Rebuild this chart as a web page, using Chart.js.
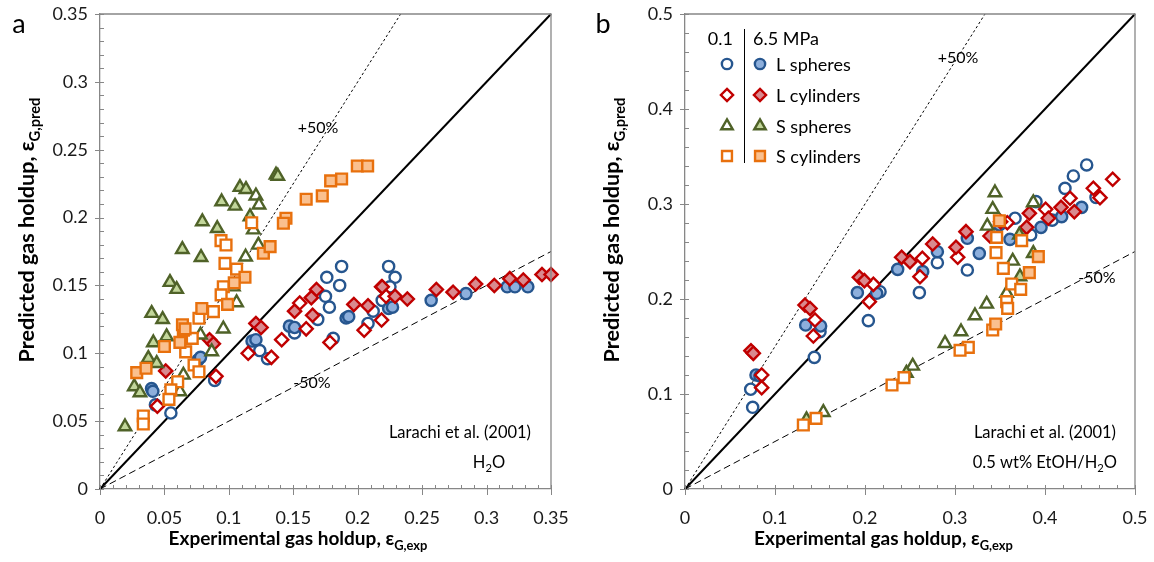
<!DOCTYPE html>
<html><head><meta charset="utf-8">
<script src="https://cdn.jsdelivr.net/npm/chart.js@4/dist/chart.umd.min.js"></script>
<style>
html,body{margin:0;padding:0;background:#fff;}
body{width:1154px;height:562px;position:relative;overflow:hidden;}
canvas{position:absolute;top:0;}
#ca{left:0;} #cb{left:577px;}
</style></head>
<body>
<canvas id="ca" width="577" height="562"></canvas>
<canvas id="cb" width="577" height="562"></canvas>
<script>
// ---------------- DATA (panel a: water) ----------------
const aTicks = [0, 0.05, 0.1, 0.15, 0.2, 0.25, 0.3, 0.35];
const aLSph01 = [[0.055,0.056],[0.043,0.062],[0.089,0.080],[0.124,0.102],[0.130,0.096],[0.176,0.156],[0.1875,0.164],[0.186,0.150],[0.175,0.142],[0.178,0.134],[0.169,0.125],[0.151,0.115],[0.181,0.111],[0.224,0.164],[0.229,0.156],[0.225,0.149],[0.219,0.139],[0.212,0.131],[0.208,0.122]];
const aLSph65 = [[0.040,0.074],[0.041,0.072],[0.076,0.095],[0.078,0.097],[0.118,0.109],[0.121,0.110],[0.147,0.120],[0.151,0.119],[0.191,0.126],[0.193,0.127],[0.224,0.133],[0.227,0.134],[0.257,0.139],[0.284,0.144],[0.316,0.149],[0.322,0.149],[0.332,0.149]];
const aLCyl01 = [[0.0445,0.061],[0.090,0.083],[0.115,0.100],[0.133,0.097],[0.141,0.110],[0.160,0.118],[0.155,0.137],[0.1785,0.108],[0.205,0.117],[0.2185,0.1245],[0.2185,0.149],[0.222,0.142]];
const aLCyl65 = [[0.051,0.087],[0.085,0.110],[0.088,0.107],[0.121,0.122],[0.125,0.119],[0.151,0.131],[0.165,0.128],[0.168,0.147],[0.164,0.141],[0.197,0.136],[0.208,0.135],[0.219,0.149],[0.229,0.142],[0.2385,0.140],[0.261,0.147],[0.274,0.145],[0.2915,0.151],[0.306,0.150],[0.318,0.155],[0.3285,0.154],[0.343,0.158],[0.350,0.158]];
const aSSph01 = [[0.121,0.216],[0.1234,0.2093],[0.119,0.191],[0.113,0.171],[0.1229,0.1798],[0.106,0.1373],[0.0957,0.118],[0.078,0.1135],[0.0867,0.1012],[0.0647,0.084],[0.062,0.0717],[0.1035,0.149]];
const aSSph65 = [[0.1366,0.2314],[0.138,0.2305],[0.1086,0.2223],[0.1133,0.2208],[0.0944,0.2117],[0.1048,0.2085],[0.1164,0.2007],[0.0794,0.197],[0.091,0.192],[0.0639,0.1766],[0.0784,0.1707],[0.0543,0.1523],[0.0595,0.1472],[0.0401,0.1295],[0.0486,0.125],[0.0517,0.1123],[0.0414,0.1078],[0.0375,0.0963],[0.044,0.0926],[0.0266,0.0754],[0.031,0.071],[0.0194,0.0459]];
const aSCyl01 = [[0.1177,0.1962],[0.0939,0.183],[0.0978,0.1798],[0.097,0.1663],[0.106,0.162],[0.0957,0.149],[0.094,0.143],[0.088,0.1307],[0.0768,0.1258],[0.0716,0.111],[0.0647,0.117],[0.0665,0.101],[0.073,0.0914],[0.0768,0.0864],[0.0603,0.079],[0.055,0.073],[0.0535,0.066],[0.0336,0.0538],[0.0336,0.0479]];
const aSCyl65 = [[0.1997,0.238],[0.2077,0.238],[0.179,0.227],[0.1875,0.2284],[0.160,0.2135],[0.1725,0.216],[0.1443,0.1995],[0.1423,0.1958],[0.1268,0.1737],[0.132,0.1786],[0.1125,0.156],[0.1042,0.152],[0.099,0.136],[0.079,0.133],[0.064,0.121],[0.066,0.118],[0.062,0.108],[0.050,0.105],[0.0285,0.0857],[0.0357,0.089]];

// ---------------- DATA (panel b: 0.5 wt% EtOH) ----------------
const bTicks = [0, 0.1, 0.2, 0.3, 0.4, 0.5];
const bLSph01 = [[0.073,0.105],[0.0752,0.086],[0.150,0.1656],[0.1437,0.1386],[0.2167,0.2077],[0.2037,0.1772],[0.2604,0.2067],[0.4463,0.3411],[0.4315,0.3295],[0.4222,0.3165],[0.4567,0.307],[0.390,0.3025],[0.3667,0.285],[0.3841,0.2674],[0.3137,0.2305],[0.2804,0.2382],[0.408,0.283]];
const bLSph65 = [[0.0789,0.120],[0.0833,0.119],[0.1341,0.1726],[0.1507,0.1716],[0.1915,0.2067],[0.213,0.206],[0.2363,0.2312],[0.2641,0.2288],[0.4407,0.2965],[0.4185,0.2867],[0.3956,0.2754],[0.3611,0.2628],[0.327,0.248],[0.3137,0.2639],[0.2804,0.2498],[0.3493,0.2779]];
const bLCyl01 = [[0.0852,0.120],[0.0852,0.1067],[0.1444,0.1779],[0.1426,0.161],[0.2093,0.2154],[0.2048,0.1972],[0.2637,0.2428],[0.2611,0.2235],[0.4752,0.326],[0.4537,0.3165],[0.4611,0.3067],[0.4278,0.306],[0.4007,0.2944],[0.3581,0.2803],[0.303,0.2439]];
const bLCyl65 = [[0.0733,0.1456],[0.0759,0.1428],[0.1333,0.1937],[0.1389,0.190],[0.1937,0.2228],[0.1993,0.2193],[0.2407,0.2439],[0.250,0.2393],[0.4326,0.2919],[0.4178,0.2965],[0.4037,0.285],[0.3826,0.2902],[0.3796,0.2754],[0.3507,0.2814],[0.3389,0.2663],[0.3122,0.2709],[0.3011,0.2544],[0.2752,0.2579]];
const bSSph01 = [[0.1537,0.0807],[0.253,0.1295],[0.3444,0.3119],[0.3419,0.2944],[0.3359,0.2768],[0.387,0.3014],[0.3641,0.240],[0.3574,0.206],[0.3352,0.1947],[0.3222,0.1824],[0.3067,0.1656],[0.2889,0.1533]];
const bSSph65 = [[0.135,0.073],[0.246,0.122],[0.3715,0.2674],[0.3722,0.2235],[0.387,0.248]];
const bSCyl01 = [[0.1315,0.0674],[0.1456,0.0744],[0.230,0.1095],[0.2433,0.1172],[0.3463,0.2649],[0.3456,0.2488],[0.3741,0.2614],[0.3537,0.2323],[0.363,0.2158],[0.373,0.2102],[0.3574,0.1972],[0.3585,0.1902],[0.3419,0.1674],[0.3148,0.1491],[0.3056,0.146]];
const bSCyl65 = [[0.3493,0.2824],[0.3926,0.2446],[0.3826,0.2277],[0.3452,0.1737]];

// reference lines (parity, +50 %, -50 %)
const aParity = [[0,0],[0.35,0.35]], aPlus50 = [[0,0],[0.35/1.5,0.35]], aMinus50 = [[0,0],[0.35,0.175]];
const bParity = [[0,0],[0.5,0.5]],   bPlus50 = [[0,0],[0.5/1.5,0.5]],   bMinus50 = [[0,0],[0.5,0.25]];

const legendLabels = ['L spheres', 'L cylinders', 'S spheres', 'S cylinders'];

// ---------------- STYLE ----------------
const FONT = 'Lato, "Liberation Sans", sans-serif';
const AXIS = '#878787';
const COL = {
  blue:   {stroke:'#26568F', fill:'#8DAFDC', style:'circle',   r:5.6},
  red:    {stroke:'#C00000', fill:'#D98A8F', style:'rectRot',  r:6.6},
  green:  {stroke:'#4F6228', fill:'#C2D69A', style:'triangle', r:7.2},
  orange: {stroke:'#E8700D', fill:'#FAC08F', style:'rect',     r:7.6}
};

function series(data, c, filled, order) {
  return {type:'scatter', data:data.map(p=>({x:p[0], y:p[1]})), pointStyle:c.style, pointRadius:c.r,
    pointBorderWidth:2.4, pointBorderColor:c.stroke, pointBackgroundColor: filled ? c.fill : '#ffffff',
    order:order, clip:false};
}
function line(data, w, dash, order) {
  return {type:'line', data:data.map(p=>({x:p[0], y:p[1]})), borderColor:'#000', borderWidth:w,
    borderDash:dash, pointRadius:0, fill:false, order:order, tension:0, clip:false};
}

function rich(ctx, parts, x, y, o) {
  const bold = o.bold ? 'bold ' : '';
  let main = o.size, sub = o.subSize || o.size * 0.68;
  const measure = () => { let w = 0; parts.forEach(p => { ctx.font = bold + (p[1] ? sub : main) + 'px ' + FONT; w += ctx.measureText(p[0]).width; }); return w; };
  let w = measure();
  if (o.width) { const k = o.width / w; main *= k; sub *= k; w = measure(); }
  let sx = o.align === 'center' ? x - w / 2 : o.align === 'right' ? x - w : x;
  ctx.textAlign = 'left'; ctx.textBaseline = 'alphabetic'; ctx.fillStyle = o.color || '#000';
  parts.forEach(p => {
    ctx.font = bold + (p[1] ? sub : main) + 'px ' + FONT;
    ctx.fillText(p[0], sx, y + (p[1] ? main * 0.27 : 0));
    sx += ctx.measureText(p[0]).width;
  });
}

function marker(ctx, style, x, y, r, stroke, fill) {
  ctx.save(); ctx.lineWidth = 2.4; ctx.strokeStyle = stroke; ctx.fillStyle = fill; ctx.beginPath();
  if (style === 'circle') ctx.arc(x, y, r, 0, Math.PI * 2);
  else if (style === 'rect') { const s = r * Math.SQRT1_2; ctx.rect(x - s, y - s, 2 * s, 2 * s); }
  else if (style === 'rectRot') { ctx.moveTo(x, y - r); ctx.lineTo(x + r, y); ctx.lineTo(x, y + r); ctx.lineTo(x - r, y); ctx.closePath(); }
  else if (style === 'triangle') { ctx.moveTo(x, y - r); ctx.lineTo(x + r * Math.cos(Math.PI / 6), y + r * 0.5); ctx.lineTo(x - r * Math.cos(Math.PI / 6), y + r * 0.5); ctx.closePath(); }
  ctx.fill(); ctx.stroke(); ctx.restore();
}

const frame = {
  id: 'frame',
  afterDraw(chart, args, o) {
    const ctx = chart.ctx, a = chart.chartArea, xs = chart.scales.x, ys = chart.scales.y;
    ctx.save();
    ctx.strokeStyle = AXIS; ctx.lineWidth = 1.3;
    ctx.beginPath(); ctx.moveTo(a.left, a.top); ctx.lineTo(a.right, a.top); ctx.lineTo(a.right, a.bottom); ctx.stroke();
    ctx.lineWidth = 1;
    const n = Math.round(o.max / o.minor);
    for (let i = 0; i <= n; i++) {
      const v = i * o.minor, major = (i % o.per) === 0;
      const px = Math.round(xs.getPixelForValue(v)) + 0.5, py = Math.round(ys.getPixelForValue(v)) + 0.5;
      ctx.beginPath();
      ctx.moveTo(px, a.bottom - 4); ctx.lineTo(px, a.bottom + (major ? 6 : 0));
      ctx.moveTo(a.left + 4, py); ctx.lineTo(a.left - (major ? 5 : 0), py);
      ctx.stroke();
    }
    ctx.restore();
    // texts
    o.texts.forEach(t => rich(ctx, t.parts, t.x, t.y, t));
    // axis titles
    rich(ctx, [['Experimental gas holdup, ε', 0], ['G,exp', 1]], o.xTitle[0], o.xTitle[1], {bold:true, size:19, align:'center', width:259});
    ctx.save(); ctx.translate(o.yTitle[0], o.yTitle[1]); ctx.rotate(-Math.PI / 2);
    rich(ctx, [['Predicted gas holdup, ε', 0], ['G,pred', 1]], 0, 7, {bold:true, size:19, align:'center', width:265});
    ctx.restore();
    if (o.legend) {
      const L = o.legend;
      ctx.save();
      rich(ctx, [['0.1', 0]], L.x0 + 6, L.hy, {size:18, align:'right'});
      rich(ctx, [['6.5 MPa', 0]], L.x1 - 7, L.hy, {size:18, align:'left'});
      ctx.strokeStyle = '#000'; ctx.lineWidth = 1;
      ctx.beginPath(); ctx.moveTo(L.line, L.top); ctx.lineTo(L.line, L.bottom); ctx.stroke();
      const cs = [COL.blue, COL.red, COL.green, COL.orange];
      legendLabels.forEach((lab, i) => {
        const y = L.rows[i], c = cs[i];
        const rr = c.r * 0.92;
        marker(ctx, c.style, L.x0, y, rr, c.stroke, '#fff');
        marker(ctx, c.style, L.x1, y, rr, c.stroke, c.fill);
        rich(ctx, [[lab, 0]], L.x1 + 16, y + 6.5, {size:18, align:'left'});
      });
      ctx.restore();
    }
  }
};

function noPad(s) { s.paddingTop = 0; s.paddingBottom = 0; s.paddingLeft = 0; s.paddingRight = 0; }

function makeChart(id, cfg) {
  const datasets = [
    series(cfg.SCyl65, COL.orange, true, 1), series(cfg.SCyl01, COL.orange, false, 2),
    series(cfg.SSph65, COL.green, true, 3),  series(cfg.SSph01, COL.green, false, 4),
    series(cfg.LCyl65, COL.red, true, 5),    series(cfg.LCyl01, COL.red, false, 6),
    series(cfg.LSph65, COL.blue, true, 7),   series(cfg.LSph01, COL.blue, false, 8),
    line(cfg.parity, 2, [], 9), line(cfg.plus, 1, [2.5, 2.5], 10), line(cfg.minus, 1, [7, 4], 11)
  ];
  const tickFont = {family: FONT, size: 18};
  const fmt = v => String(+(+v).toFixed(2));
  return new Chart(document.getElementById(id), {
    type: 'scatter',
    data: {datasets},
    options: {
      responsive: false, animation: false, events: [],
      layout: {autoPadding: false, padding: {left: 0, top: 14, right: 577 - cfg.right, bottom: 0}},
      plugins: {legend: {display: false}, tooltip: {enabled: false}, frame: cfg.frame},
      scales: {
        x: {type: 'linear', min: 0, max: cfg.max,
            afterBuildTicks: s => { s.ticks = cfg.ticks.map(v => ({value: v})); },
            afterFit: s => { s.height = 73; noPad(s); },
            ticks: {font: tickFont, color: '#1a1a1a', padding: 18, maxRotation: 0, autoSkip: false, callback: fmt},
            grid: {drawOnChartArea: false, drawTicks: false}, border: {color: AXIS, width: 1.3}},
        y: {type: 'linear', min: 0, max: cfg.max,
            afterBuildTicks: s => { s.ticks = cfg.ticks.map(v => ({value: v})); },
            afterFit: s => { s.width = cfg.left; noPad(s); },
            ticks: {font: tickFont, color: '#1a1a1a', padding: 12, autoSkip: false, callback: fmt},
            grid: {drawOnChartArea: false, drawTicks: false}, border: {color: AXIS, width: 1.3}}
      }
    },
    plugins: [frame]
  });
}

makeChart('ca', {
  max: 0.35, ticks: aTicks, left: 100, right: 551,
  LSph01: aLSph01, LSph65: aLSph65, LCyl01: aLCyl01, LCyl65: aLCyl65,
  SSph01: aSSph01, SSph65: aSSph65, SCyl01: aSCyl01, SCyl65: aSCyl65,
  parity: aParity, plus: aPlus50, minus: aMinus50,
  frame: {max: 0.35, minor: 0.01, per: 5, xTitle: [298, 545], yTitle: [27, 230],
    texts: [
      {parts: [['a', 0]], x: 19, y: 33, size: 27, align: 'center'},
      {parts: [['+50%', 0]], x: 318, y: 133, size: 16, align: 'center'},
      {parts: [['-50%', 0]], x: 312, y: 388, size: 16, align: 'center'},
      {parts: [['Larachi et al. (2001)', 0]], x: 531, y: 438, size: 16.5, align: 'right'},
      {parts: [['H', 0], ['2', 1], ['O', 0]], x: 489, y: 468, size: 16.5, align: 'center'}
    ]}
});

makeChart('cb', {
  max: 0.5, ticks: bTicks, left: 108, right: 558,
  LSph01: bLSph01, LSph65: bLSph65, LCyl01: bLCyl01, LCyl65: bLCyl65,
  SSph01: bSSph01, SSph65: bSSph65, SCyl01: bSCyl01, SCyl65: bSCyl65,
  parity: bParity, plus: bPlus50, minus: bMinus50,
  frame: {max: 0.5, minor: 0.02, per: 5, xTitle: [306.5, 545], yTitle: [35, 230],
    texts: [
      {parts: [['b', 0]], x: 26, y: 33, size: 27, align: 'center'},
      {parts: [['+50%', 0]], x: 381, y: 63, size: 16, align: 'center'},
      {parts: [['-50%', 0]], x: 520, y: 283, size: 16, align: 'center'},
      {parts: [['Larachi et al. (2001)', 0]], x: 539, y: 438, size: 16.5, align: 'right'},
      {parts: [['0.5 wt% EtOH/H', 0], ['2', 1], ['O', 0]], x: 540, y: 468, size: 16.5, align: 'right'}
    ],
    legend: {x0: 150, x1: 183, hy: 45, line: 167.5, top: 29, bottom: 163, rows: [64, 95, 126, 156]}}
});
</script>
</body></html>
